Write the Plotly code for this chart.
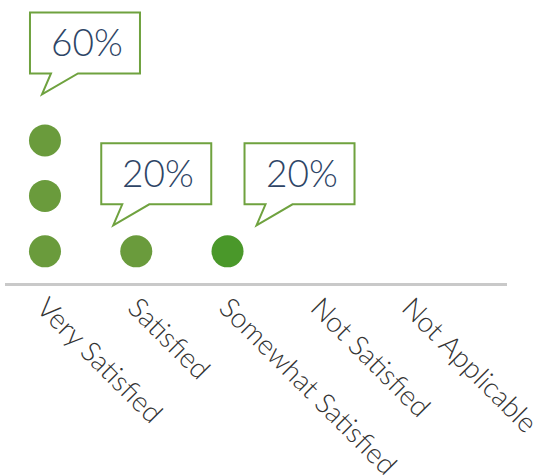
import plotly.graph_objects as go

categories = ["Very Satisfied", "Satisfied", "Somewhat Satisfied", "Not Satisfied", "Not Applicable"]
percent = [60, 20, 20, 0, 0]
unit = 20  # each dot = 20%
dot_colors = ["#6a9b3c", "#6a9b3c", "#4a982a", "#6a9b3c", "#6a9b3c"]
labels = [f"{p}%" for p in percent]

# callout tip offsets (pixels) from the top dot of each column (style only)
tip_offsets = [(-3, 46), (-23, 26), (29, 26), (0, 0), (0, 0)]

xs, ys, cs = [], [], []
for i, p in enumerate(percent):
    n = p // unit
    for k in range(1, n + 1):
        xs.append(i)
        ys.append(k)
        cs.append(dot_colors[i])

fig = go.Figure()
fig.add_trace(go.Scatter(
    x=xs, y=ys, mode="markers",
    marker=dict(size=32, color=cs, line=dict(width=0)),
    hoverinfo="skip", showlegend=False,
))

border = "#6fa23f"
for i, p in enumerate(percent):
    if p <= 0:
        continue
    top = p // unit
    dx, dy = tip_offsets[i]
    # speech bubble path, pixel coordinates relative to tip (y positive = up)
    L, R, B, T = -12, 98, 21, 82
    t1, t2 = 9, 36
    pts = [(t1, B), (L, B), (L, T), (R, T), (R, B), (t2, B), (0, 0)]
    path = "M " + " L ".join(f"{dx + px},{dy + py}" for px, py in pts) + " Z"
    fig.add_shape(
        type="path", path=path,
        xref="x", yref="y",
        xsizemode="pixel", ysizemode="pixel",
        xanchor=i, yanchor=top,
        fillcolor="white", line=dict(color=border, width=2),
        layer="above",
    )
    fig.add_annotation(
        x=i, y=top, xref="x", yref="y",
        text=labels[i], showarrow=False,
        xshift=dx + (L + R) / 2 + 2, yshift=dy + (B + T) / 2 + 1,
        font=dict(family="Lato", size=37, color="#2e4566", weight=300),
    )

fig.update_layout(
    width=555, height=475,
    margin=dict(l=5, r=48, t=0, b=192, autoexpand=False),
    paper_bgcolor="white", plot_bgcolor="white",
    xaxis=dict(
        range=[-0.438, 5.062], automargin=False,
        tickmode="array", tickvals=list(range(len(categories))), ticktext=categories,
        tickangle=45, showgrid=False, zeroline=False,
        showline=True, linecolor="#c9c9c9", linewidth=3,
        ticks="", ticklabelstandoff=-6,
        tickfont=dict(family="Lato", size=28, color="#333333", weight=300),
    ),
    yaxis=dict(
        range=[0.43, 5.53], visible=False, showgrid=False, zeroline=False,
    ),
)

fig.write_html("out.html")
